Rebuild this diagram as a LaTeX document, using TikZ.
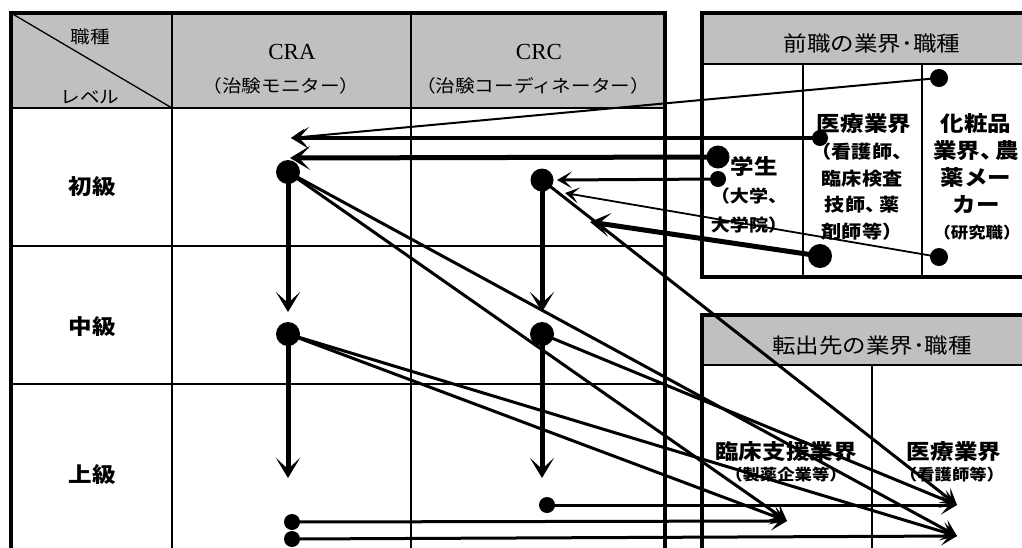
\documentclass[tikz,border=0pt]{standalone}
\usepackage{fontspec}
\setmainfont{Liberation Serif}
\newfontfamily\jp[FakeStretch=1.12]{Noto Sans CJK JP}
\usetikzlibrary{arrows.meta}
\definecolor{hdr}{RGB}{192,192,192}
\begin{document}
\begin{tikzpicture}[x=1pt,y=-1pt,
  outerline/.style={line width=3.5pt},
  gridline/.style={line width=1.6pt},
  dot/.style={circle,fill=black,inner sep=0pt},
  txt/.style={inner sep=0pt},
  hdrtxt/.style={txt,font=\jp\fontsize{17.5}{20}\selectfont},
  lat/.style={txt,font=\fontsize{23}{25}\selectfont},
  lvl/.style={txt,font=\jp\bfseries\fontsize{21}{24}\selectfont},
  bigb/.style={txt,font=\jp\bfseries\fontsize{21}{27}\selectfont,align=center},
  subb/.style={txt,font=\jp\bfseries\fontsize{18}{26.5}\selectfont,align=center},
  smallb/.style={txt,font=\jp\bfseries\fontsize{15.5}{18}\selectfont},
  boxhdr/.style={txt,font=\jp\fontsize{21}{24}\selectfont},
  bigarrow/.style={line width=5pt,-{Stealth[length=20pt,width=24pt,inset=11pt]}},
  diagarrow/.style={line width=3pt,-{Stealth[length=16pt,width=19pt,inset=8pt]}},
  thinarrow/.style={line width=2pt,-{Stealth[length=14pt,width=16pt,inset=7pt]}},
]
\clip (0,0) rectangle (1022,547);
\fill[white] (0,0) rectangle (1022,547);

% main table
\fill[hdr] (11,13) rectangle (665,108);
\draw[gridline] (11,108) -- (665,108);
\draw[gridline] (11,246) -- (665,246);
\draw[gridline] (11,384) -- (665,384);
\draw[gridline] (172,13) -- (172,560);
\draw[gridline] (411,13) -- (411,560);
\draw[line width=1.3pt] (11,13) -- (172,108);
\draw[outerline] (11,560) -- (11,13) -- (665,13) -- (665,560);

% previous-job box
\fill[hdr] (702,13) rectangle (1040,64);
\draw[gridline] (702,64) -- (1040,64);
\draw[gridline] (803,64) -- (803,277);
\draw[gridline] (922,64) -- (922,277);
\draw[outerline] (1040,13) -- (702,13) -- (702,277) -- (1040,277);

% destination box
\fill[hdr] (702,315) rectangle (1040,365);
\draw[gridline] (702,365) -- (1040,365);
\draw[gridline] (872,365) -- (872,560);
\draw[outerline] (702,560) -- (702,315) -- (1040,315);

% header texts
\node[hdrtxt] (hshu) at (90,37) {職種};
\node[hdrtxt] (hlev) at (90,97) {レベル};
\node[lat] (cra) at (292,52) {CRA};
\node[hdrtxt] (crasub) at (281,86) {（治験モニター）};
\node[lat] (crc) at (539,52) {CRC};
\node[hdrtxt] (crcsub) at (533,86) {（治験コーディネーター）};
\node[lvl] (l1) at (92,187) {初級};
\node[lvl] (l2) at (92,327) {中級};
\node[lvl] (l3) at (92,475) {上級};

\node[boxhdr] (prevh) at (872,44) {前職の業界･職種};
\node[bigb] (iryo1) at (864,124) {医療業界};
\node[subb] (iryo1s) at (862,191.5) {（看護師、\\臨床検査\\技師、\kern-0.35em 薬\\剤師等）};
\node[bigb] (gaku) at (754,166) {学生};
\node[txt,font=\jp\bfseries\fontsize{17}{29}\selectfont,align=center] (gakus) at (749,210.5) {（大学、\\大学院）};
\node[bigb] (kesho) at (976,164) {化粧品\\業界、\kern-0.4em 農\\薬メー\\カー};
\node[smallb] (keshos) at (977,233) {（研究職）};

\node[boxhdr] (desth) at (872,346) {転出先の業界･職種};
\node[bigb] (rinsho) at (786,452) {臨床支援業界};
\node[smallb] (rinshos) at (786,475) {（製薬企業等）};
\node[bigb] (iryo2) at (954,452) {医療業界};
\node[smallb] (iryo2s) at (952,475) {（看護師等）};

% dots
\node[dot,minimum size=24pt] (craA) at (288,172) {};
\node[dot,minimum size=23pt] (crcA) at (542,180) {};
\node[dot,minimum size=24pt] (craB) at (288,334) {};
\node[dot,minimum size=24pt] (crcB) at (542,334) {};
\node[dot,minimum size=16pt] (crcC) at (547,505) {};
\node[dot,minimum size=16pt] (craC) at (292,522) {};
\node[dot,minimum size=16pt] (craD) at (292,539) {};
\node[dot,minimum size=18pt] (ksTop) at (939,78) {};
\node[dot,minimum size=16pt] (irTop) at (820,138) {};
\node[dot,minimum size=23pt] (gkBig) at (718,157) {};
\node[dot,minimum size=16pt] (gkSm) at (718,179) {};
\node[dot,minimum size=24pt] (irBot) at (820,256) {};
\node[dot,minimum size=18pt] (ksBot) at (939,257) {};

% arrow ends
\coordinate (tA) at (291,138);
\coordinate (tB) at (290,158);
\coordinate (tC) at (557,180);
\coordinate (tD) at (565,193);
\coordinate (tE) at (590,222);
\coordinate (v1) at (288,312);
\coordinate (v2) at (542,312);
\coordinate (v3) at (288,478);
\coordinate (v4) at (542,478);
\coordinate (rA) at (787,521);
\coordinate (rB) at (957,505);
\coordinate (rC) at (957,536);

% incoming arrows
\draw[thinarrow] (ksTop.center) -- (tA);
\draw[line width=4pt,-{Stealth[length=18pt,width=22pt,inset=10pt]}] (irTop.center) -- (tA);
\draw[bigarrow] (gkBig.center) -- (tB);
\draw[line width=3pt,-{Stealth[length=15pt,width=17pt,inset=8pt]}] (gkSm.center) -- (tC);
\draw[line width=1.8pt,-{Stealth[length=14pt,width=16pt,inset=7pt]}] (ksBot.center) -- (tD);
\draw[bigarrow] (irBot.center) -- (tE);

% level arrows
\draw[bigarrow] (craA.center) -- (v1);
\draw[bigarrow] (crcA.center) -- (v2);
\draw[bigarrow] (craB.center) -- (v3);
\draw[bigarrow] (crcB.center) -- (v4);

% outgoing arrows
\draw[diagarrow] (craA.center) -- (rA);
\draw[diagarrow] (craA.center) -- (rC);
\draw[diagarrow] (craB.center) -- (rA);
\draw[diagarrow] (craB.center) -- (rC);
\draw[diagarrow] (crcA.center) -- (rB);
\draw[diagarrow] (crcB.center) -- (rB);
\draw[diagarrow] (crcC.center) -- (rB);
\draw[diagarrow] (craC.center) -- (rA);
\draw[diagarrow] (craD.center) -- (rC);
\end{tikzpicture}
\end{document}
